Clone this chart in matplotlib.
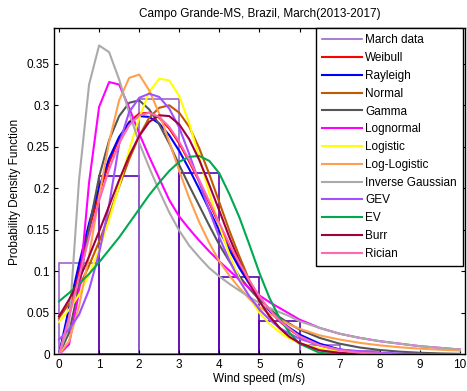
import numpy as np
import matplotlib
matplotlib.use("Agg")
import matplotlib.pyplot as plt

plt.rcParams['font.family'] = ['Liberation Sans', 'DejaVu Sans']

# wind speed grid (m/s) the fitted curves were read at
x_pts = [0, 0.25, 0.5, 0.75, 1.0, 1.25, 1.5, 1.75, 2.0, 2.25, 2.5, 2.75, 3.0,
         3.25, 3.5, 3.75, 4.0, 4.25, 4.5, 4.75, 5.0, 5.25, 5.5, 5.75, 6.0,
         6.5, 7.0, 7.5, 8.0, 8.5, 9.0, 9.5, 10.0]

# histogram of March data (bin width 1 m/s)
bin_left = [0, 1, 2, 3, 4, 5, 6, 7, 8, 9]
bin_height = [0.110, 0.215, 0.308, 0.218, 0.093, 0.040, 0.011, 0.004, 0.001, 0.0005]

weibull = [0, 0.046, 0.100, 0.150, 0.194, 0.231, 0.260, 0.280, 0.290, 0.291, 0.285,
           0.272, 0.254, 0.232, 0.208, 0.182, 0.156, 0.131, 0.108, 0.087, 0.069,
           0.053, 0.040, 0.030, 0.022, 0.011, 0.005, 0.002, 0.001, 0.0004, 0.0001, 0, 0]
rayleigh = [0, 0.056, 0.109, 0.158, 0.201, 0.236, 0.262, 0.279, 0.287, 0.286, 0.278,
            0.264, 0.245, 0.223, 0.199, 0.174, 0.149, 0.126, 0.104, 0.085, 0.068,
            0.053, 0.041, 0.032, 0.024, 0.013, 0.006, 0.003, 0.0014, 0.0006, 0.0002, 0.0001, 0]
normal = [0.044, 0.061, 0.081, 0.107, 0.136, 0.168, 0.202, 0.235, 0.263, 0.285, 0.297,
          0.300, 0.291, 0.274, 0.248, 0.217, 0.183, 0.149, 0.118, 0.089, 0.066,
          0.046, 0.032, 0.021, 0.013, 0.005, 0.0015, 0.0004, 0.0001, 0, 0, 0, 0]
gamma = [0, 0.026, 0.082, 0.152, 0.214, 0.258, 0.287, 0.303, 0.306, 0.295, 0.277,
         0.254, 0.228, 0.203, 0.179, 0.155, 0.132, 0.112, 0.094, 0.079, 0.066,
         0.055, 0.045, 0.037, 0.030, 0.020, 0.013, 0.0084, 0.0054, 0.0034, 0.0021, 0.0013, 0.0008]
lognormal = [0, 0.012, 0.075, 0.207, 0.298, 0.328, 0.325, 0.297, 0.266, 0.238, 0.212,
             0.186, 0.166, 0.151, 0.137, 0.124, 0.112, 0.101, 0.090, 0.080, 0.071,
             0.063, 0.056, 0.049, 0.042, 0.032, 0.025, 0.020, 0.016, 0.013, 0.010, 0.008, 0.006]
logistic = [0.039, 0.054, 0.072, 0.096, 0.126, 0.162, 0.203, 0.246, 0.285, 0.316, 0.332,
            0.330, 0.311, 0.278, 0.237, 0.194, 0.155, 0.120, 0.091, 0.068, 0.050,
            0.037, 0.027, 0.019, 0.014, 0.007, 0.004, 0.002, 0.001, 0.0005, 0.0003, 0.0001, 0.0001]
loglogistic = [0, 0.016, 0.058, 0.119, 0.190, 0.256, 0.306, 0.333, 0.337, 0.318, 0.290,
               0.256, 0.221, 0.188, 0.159, 0.134, 0.112, 0.095, 0.080, 0.067, 0.057,
               0.049, 0.0425, 0.036, 0.031, 0.023, 0.018, 0.014, 0.011, 0.0087, 0.0070, 0.0057, 0.0047]
invgauss = [0, 0.035, 0.210, 0.325, 0.372, 0.364, 0.331, 0.291, 0.255, 0.225, 0.197,
            0.171, 0.149, 0.131, 0.117, 0.104, 0.094, 0.085, 0.077, 0.069, 0.062,
            0.056, 0.051, 0.046, 0.040, 0.032, 0.025, 0.020, 0.016, 0.013, 0.010, 0.008, 0.006]
gev = [0.018, 0.030, 0.048, 0.078, 0.122, 0.180, 0.253, 0.292, 0.309, 0.314, 0.310,
       0.296, 0.273, 0.241, 0.207, 0.173, 0.141, 0.113, 0.089, 0.070, 0.054,
       0.042, 0.032, 0.025, 0.019, 0.011, 0.006, 0.004, 0.002, 0.001, 0.0007, 0.0004, 0.0002]
ev = [0.064, 0.074, 0.085, 0.097, 0.111, 0.126, 0.141, 0.158, 0.175, 0.192, 0.207,
      0.221, 0.232, 0.238, 0.239, 0.233, 0.218, 0.193, 0.165, 0.132, 0.098,
      0.068, 0.044, 0.026, 0.013, 0.002, 0.0002, 0, 0, 0, 0, 0, 0]
burr = [0.046, 0.066, 0.090, 0.118, 0.148, 0.179, 0.210, 0.239, 0.263, 0.280, 0.288,
        0.287, 0.277, 0.259, 0.234, 0.204, 0.173, 0.141, 0.112, 0.086, 0.064,
        0.046, 0.032, 0.021, 0.014, 0.005, 0.002, 0.0005, 0.0001, 0, 0, 0, 0]
rician = [0, 0.045, 0.093, 0.141, 0.185, 0.223, 0.254, 0.276, 0.288, 0.291, 0.286,
          0.274, 0.256, 0.234, 0.210, 0.184, 0.158, 0.133, 0.110, 0.089, 0.070,
          0.054, 0.041, 0.031, 0.022, 0.011, 0.005, 0.002, 0.001, 0, 0, 0, 0]

curves = [("Weibull", weibull, "#ff0000"),
          ("Rayleigh", rayleigh, "#0000ff"),
          ("Normal", normal, "#c05a00"),
          ("Gamma", gamma, "#555555"),
          ("Lognormal", lognormal, "#ff00ff"),
          ("Logistic", logistic, "#ffff00"),
          ("Log-Logistic", loglogistic, "#ffa050"),
          ("Inverse Gaussian", invgauss, "#aaaaaa"),
          ("GEV", gev, "#a050ff"),
          ("EV", ev, "#00a850"),
          ("Burr", burr, "#a00040"),
          ("Rician", rician, "#ff69b4")]

bar_edge = ["#9966cc", "#5a00b4", "#9966cc", "#5a00b4", "#5a00b4",
            "#5a00b4", "#9966cc", "#9966cc", "#9966cc", "#9966cc"]

fig = plt.figure(figsize=(4.67, 3.91), dpi=100)
ax = fig.add_axes([0.1156, 0.0934, 0.880, 0.8338])

ax.bar(bin_left, bin_height, width=1.0, align='edge', fill=False,
       edgecolor=bar_edge, linewidth=1.2)
ax.plot([], [], color="#9966cc", lw=1.2, label="March data")
for name, vals, col in curves:
    ax.plot(x_pts, vals, color=col, lw=1.5, label=name)

ax.set_xlim(-0.125, 10.125)
ax.set_ylim(0, 0.3925)
ax.set_xticks(range(0, 11))
ax.set_yticks([0, 0.05, 0.1, 0.15, 0.2, 0.25, 0.3, 0.35])
ax.set_yticklabels(["0", "0.05", "0.1", "0.15", "0.2", "0.25", "0.3", "0.35"])
ax.tick_params(direction='in', length=3, width=0.8, top=True, right=True,
               labelsize=8.5, pad=3)
for s in ax.spines.values():
    s.set_linewidth(1.0)

ax.set_title("Campo Grande-MS, Brazil, March(2013-2017)", fontsize=8.5, pad=8)
ax.set_xlabel("Wind speed (m/s)", fontsize=8.5, labelpad=2)
ax.set_ylabel("Probability Density Function", fontsize=8.5, labelpad=4)

leg = ax.legend(loc='upper right', bbox_to_anchor=(0.995, 1.0), borderaxespad=0,
                fontsize=8.5, handlelength=3.4, handletextpad=0.3,
                labelspacing=0.49, borderpad=0.5, fancybox=False, framealpha=1)
leg.get_frame().set_edgecolor('black')
leg.get_frame().set_linewidth(1.0)

fig.savefig("out.png", dpi=100)
